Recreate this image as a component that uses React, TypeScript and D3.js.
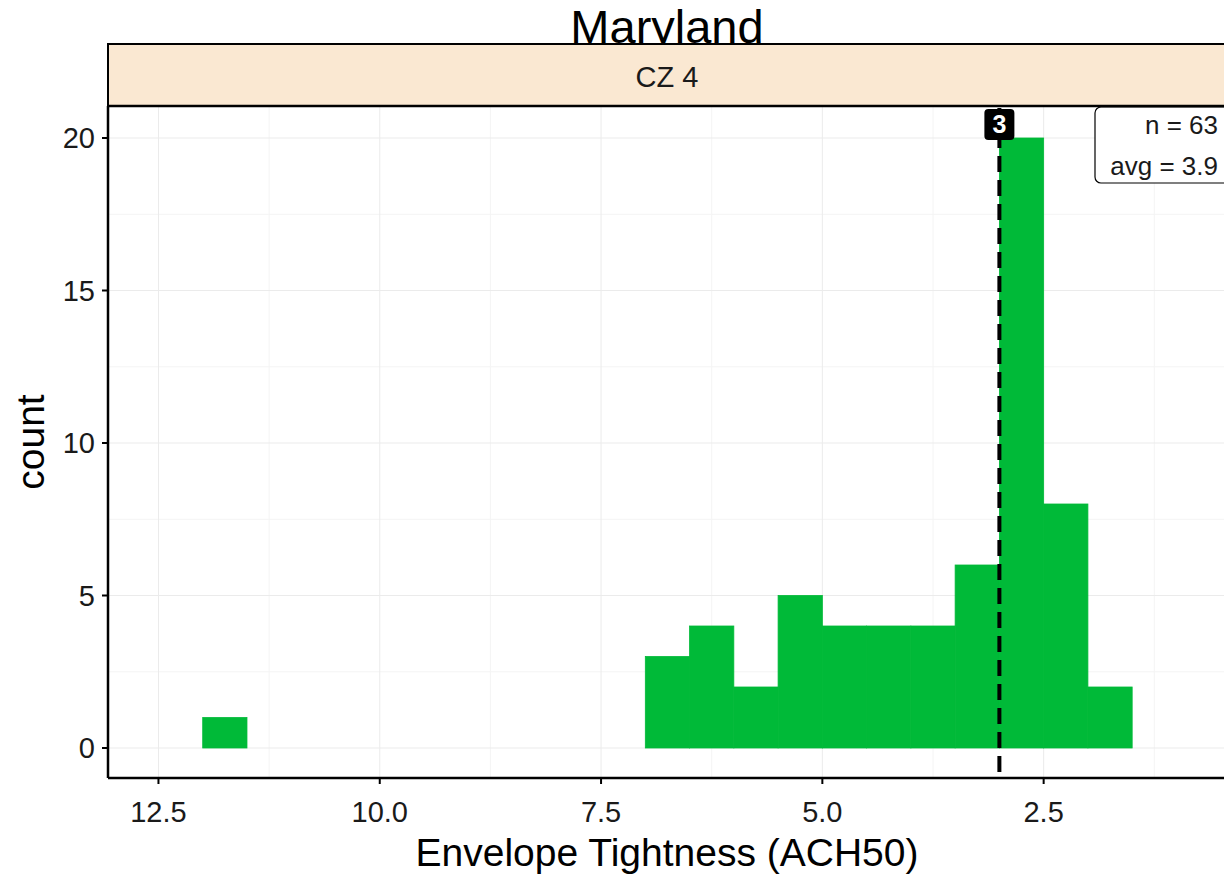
import React from "react";
import * as d3 from "d3";

const binStarts = [11.5, 6.5, 6.0, 5.5, 5.0, 4.5, 4.0, 3.5, 3.0, 2.5, 2.0, 1.5];
const binCounts = [1, 3, 4, 2, 5, 4, 4, 4, 6, 20, 8, 2];
const binWidth = 0.5;
const xTicks = [12.5, 10.0, 7.5, 5.0, 2.5];
const yTicks = [0, 5, 10, 15, 20];
const medianValue = 3;
const nLabel = "n = 63";
const avgLabel = "avg = 3.9";
const title = "Maryland";
const stripLabel = "CZ 4";

export default function App() {
  const W = 1224, H = 875;
  const left = 108, right = 1226, top = 106, bottom = 778;
  const x = d3.scaleLinear().domain([13.07, 0.44]).range([left, right]);
  const y = d3.scaleLinear().domain([0, 20]).range([748, 138]);
  const font = "Liberation Sans, Arial, sans-serif";
  const minorY = [2.5, 7.5, 12.5, 17.5];
  const minorX = [11.25, 8.75, 6.25, 3.75, 1.25];
  return (
    <svg width={W} height={H} style={{ position: "absolute", left: 0, top: 0 }} fontFamily={font}>
      <rect x={0} y={0} width={W} height={H} fill="#fff" />
      <text x={667} y={43} fontSize={47} textAnchor="middle" fill="#000">{title}</text>
      <rect x={left} y={44} width={right - left} height={top - 44} fill="#FAE8D2" stroke="#000" strokeWidth={2} />
      <text x={667} y={87} fontSize={29} textAnchor="middle" fill="#1a1a1a">{stripLabel}</text>
      <g>
        {minorY.map((v) => (
          <line key={"my" + v} x1={left} x2={right} y1={y(v)} y2={y(v)} stroke="#f4f4f4" strokeWidth={1} />
        ))}
        {minorX.map((v) => (
          <line key={"mx" + v} y1={top} y2={bottom} x1={x(v)} x2={x(v)} stroke="#f4f4f4" strokeWidth={1} />
        ))}
        {yTicks.map((v) => (
          <line key={"gy" + v} x1={left} x2={right} y1={y(v)} y2={y(v)} stroke="#ebebeb" strokeWidth={1} />
        ))}
        {xTicks.map((v) => (
          <line key={"gx" + v} y1={top} y2={bottom} x1={x(v)} x2={x(v)} stroke="#ebebeb" strokeWidth={1} />
        ))}
      </g>
      <g>
        {binStarts.map((s, i) => {
          const x0 = x(s + binWidth);
          const x1 = x(s);
          return (
            <rect key={i} x={x0} y={y(binCounts[i])} width={x1 - x0} height={y(0) - y(binCounts[i])}
              fill="#00BA38" stroke="#00BA38" strokeWidth={0.8} />
          );
        })}
      </g>
      <line x1={x(medianValue)} x2={x(medianValue)} y1={top + 2} y2={bottom} stroke="#000" strokeWidth={4} strokeDasharray="16,8" />
      <rect x={x(medianValue) - 15} y={109} width={30} height={31} rx={4} fill="#000" />
      <text x={x(medianValue)} y={133} fontSize={25} fontWeight="bold" fill="#fff" textAnchor="middle">{String(medianValue)}</text>
      <rect x={1095} y={107} width={140} height={76} rx={6} fill="#fff" stroke="#000" strokeWidth={1.2} />
      <text x={1218} y={134} fontSize={26} textAnchor="end" fill="#1a1a1a">{nLabel}</text>
      <text x={1218} y={175} fontSize={26} textAnchor="end" fill="#1a1a1a">{avgLabel}</text>
      <line x1={left} x2={left} y1={top} y2={bottom} stroke="#000" strokeWidth={2.5} />
      <line x1={left} x2={right} y1={bottom} y2={bottom} stroke="#000" strokeWidth={2.5} />
      <line x1={left} x2={right} y1={top} y2={top} stroke="#000" strokeWidth={2.5} />
      {yTicks.map((v) => (
        <g key={"yt" + v}>
          <line x1={left - 6} x2={left} y1={y(v)} y2={y(v)} stroke="#000" strokeWidth={2} />
          <text x={left - 13} y={y(v) + 10} fontSize={29} textAnchor="end" fill="#1a1a1a">{v}</text>
        </g>
      ))}
      {xTicks.map((v) => (
        <g key={"xt" + v}>
          <line x1={x(v)} x2={x(v)} y1={bottom} y2={bottom + 6} stroke="#000" strokeWidth={2} />
          <text x={x(v)} y={bottom + 44} fontSize={29} textAnchor="middle" fill="#1a1a1a">{v.toFixed(1)}</text>
        </g>
      ))}
      <text x={667} y={866} fontSize={39} textAnchor="middle" fill="#000">Envelope Tightness (ACH50)</text>
      <text transform={`translate(44, 442) rotate(-90)`} fontSize={39} textAnchor="middle" fill="#000">count</text>
    </svg>
  );
}
